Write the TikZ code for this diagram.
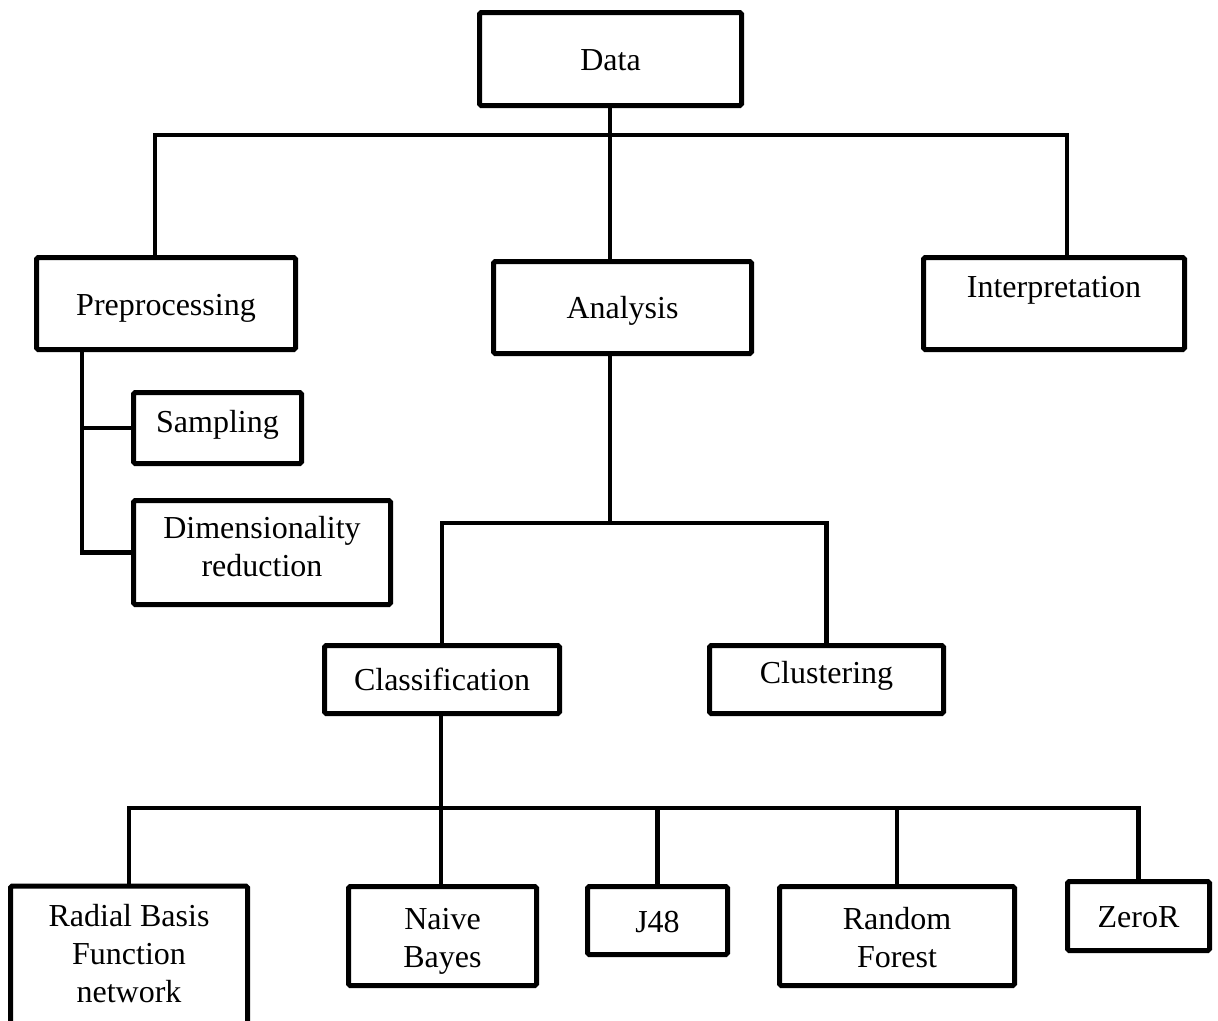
\documentclass[tikz,border=0pt]{standalone}
\usepackage{fontspec}
\setmainfont{Liberation Serif}
\usetikzlibrary{calc}
\begin{document}
\begin{tikzpicture}[x=0.75pt,y=-0.75pt,
  box/.style={draw, line width=3.75pt, rounded corners=1.2pt, inner sep=0pt},
  conn/.style={line width=3.4pt, line join=miter},
  lbl/.style={anchor=base, inner sep=0pt, align=center,
    font=\fontsize{24pt}{28.5pt}\selectfont}]
\useasboundingbox (0,0) rectangle (1218,1021);
\clip (0,0) rectangle (1218,1021);

% boxes
\node[box, minimum width=196.5pt,  minimum height=69.75pt] (data)  at (610.5,59)   {};
\node[box, minimum width=194.25pt, minimum height=69pt]    (pre)   at (166,303.5)  {};
\node[box, minimum width=193.5pt,  minimum height=69pt]    (ana)   at (622.5,307.5){};
\node[box, minimum width=195.75pt, minimum height=69pt]    (inter) at (1054,303.5) {};
\node[box, minimum width=126pt,    minimum height=53.25pt] (samp)  at (217.5,428)  {};
\node[box, minimum width=192.75pt, minimum height=78pt]    (dim)   at (262,552.5)  {};
\node[box, minimum width=176.25pt, minimum height=51pt]    (cla)   at (442,679.5)  {};
\node[box, minimum width=175.5pt,  minimum height=51pt]    (clu)   at (826.5,679.5){};
\node[box, minimum width=177.75pt, minimum height=129pt]   (rbf)   at (129,972)    {};
\node[box, minimum width=141pt,    minimum height=74.25pt] (nb)    at (442.5,936)  {};
\node[box, minimum width=105pt,    minimum height=51pt]    (j48)   at (657.5,920.5){};
\node[box, minimum width=176.25pt, minimum height=74.25pt] (rf)    at (897,936)    {};
\node[box, minimum width=106.5pt,  minimum height=51.75pt] (zr)    at (1138.5,916) {};

% labels (base = baseline of the last line)
\node[lbl] (tdata)  at (610.5,70)  {Data};
\node[lbl] (tpre)   at (166,315)   {Preprocessing};
\node[lbl] (tana)   at (622.5,318) {Analysis};
\node[lbl] (tinter) at (1054,297)  {Interpretation};
\node[lbl] (tsamp)  at (217.5,432) {Sampling};
\node[lbl] (tdim)   at (262,576)   {Dimensionality\\reduction};
\node[lbl] (tcla)   at (442,690)   {Classification};
\node[lbl] (tclu)   at (826.5,683) {Clustering};
\node[lbl] (trbf)   at (129,1002)  {Radial Basis\\Function\\network};
\node[lbl] (tnb)    at (442.5,967) {Naive\\Bayes};
\node[lbl] (tj48)   at (657.5,932) {J48};
\node[lbl] (trf)    at (897,967)   {Random\\Forest};
\node[lbl] (tzr)    at (1138.5,927){ZeroR};

% bus junctions
\coordinate (b1)  at (610,135);
\coordinate (b1l) at (155,135);
\coordinate (b1r) at (1067,135);
\coordinate (pv)  at (82,400);
\coordinate (b2)  at (610,523);
\coordinate (b3)  at (441,808);

% Data -> Preprocessing / Analysis / Interpretation
\draw[conn] (data.south -| b1) -- (b1);
\draw[conn] (pre.north -| b1l) |- (b1r) -- (inter.north -| b1r);
\draw[conn] (b1) -- (ana.north -| b1);

% Preprocessing -> Sampling / Dimensionality reduction
\draw[conn] (pre.south -| pv) |- (dim.west);
\draw[conn] (samp.west) -- (samp.west -| pv);

% Analysis -> Classification / Clustering
\draw[conn] (ana.south -| b2) -- (b2);
\draw[conn] (cla.north) |- (clu.north |- b2) -- (clu.north);

% Classification -> algorithms
\draw[conn] (cla.south -| b3) -- (b3) -- (nb.north -| b3);
\draw[conn] (rbf.north) |- (zr.north |- b3) -- (zr.north);
\draw[conn] (j48.north |- b3) -- (j48.north);
\draw[conn] (rf.north |- b3) -- (rf.north);
\end{tikzpicture}
\end{document}
